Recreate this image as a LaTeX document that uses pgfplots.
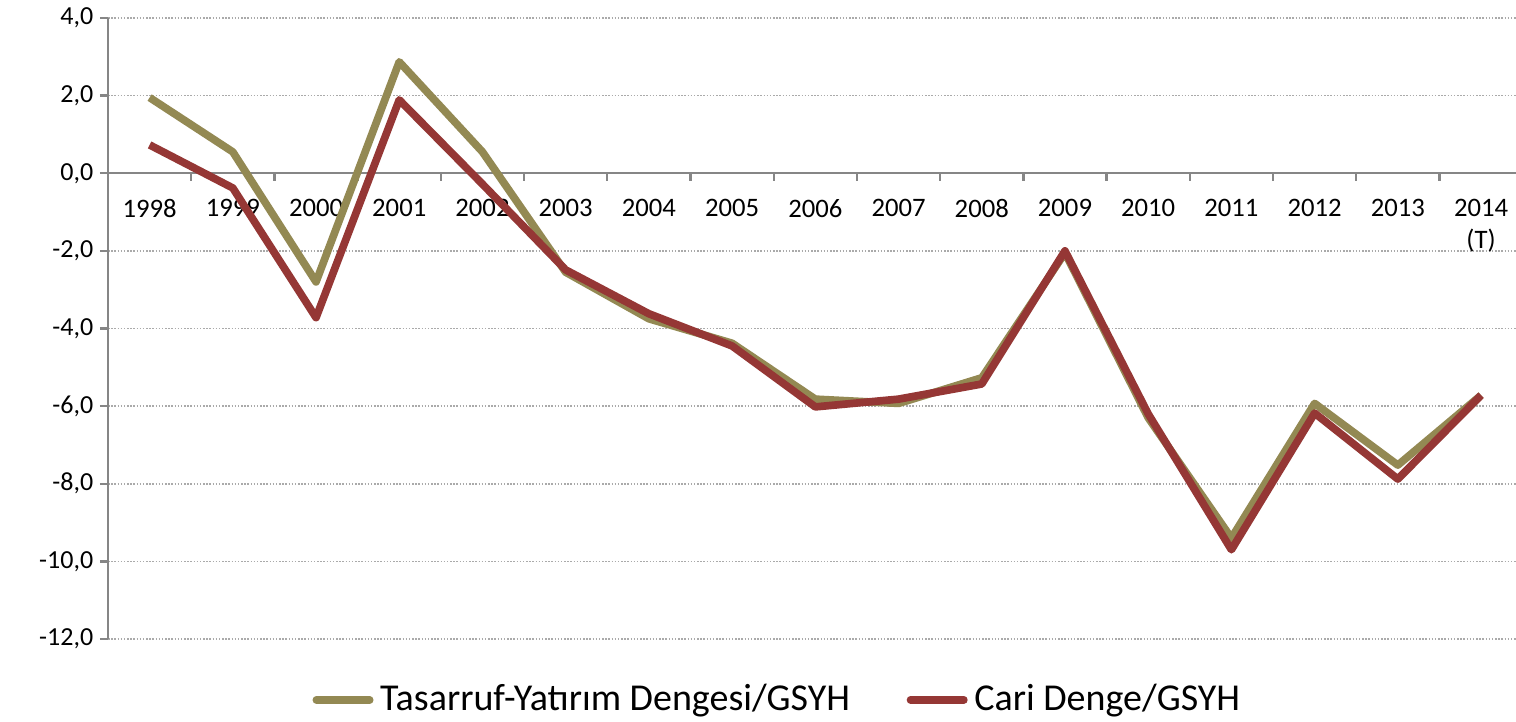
\documentclass[border=0pt]{standalone}
\usepackage{pgfplots}
\pgfplotsset{compat=1.18}
\usepackage{fontspec}
\setmainfont{Carlito}
\definecolor{olivel}{RGB}{147,137,83}
\definecolor{redl}{RGB}{149,55,53}
\definecolor{axgray}{RGB}{134,134,134}
\definecolor{gridgray}{RGB}{170,170,170}
\begin{document}
\begin{tikzpicture}
\useasboundingbox (-32.4pt,-24.9pt) rectangle (422.4pt,191.7pt);
\begin{axis}[
  scale only axis, width=422.4pt, height=186.3pt,
  at={(0,0)}, anchor=south west,
  xmin=-0.5, xmax=16.42, ymin=-12, ymax=4,
  axis y line*=left, axis x line*=middle,
  axis line style={axgray, line width=0.7pt},
  xtick={0,...,16},
  xticklabels={1998,1999,2000,2001,2002,2003,2004,2005,2006,2007,2008,2009,2010,2011,2012,2013,{2014\\(T)}},
  x tick label style={align=center, font=\fontsize{8}{9.6}\selectfont, yshift=-2pt},
  major x tick style={draw=none},
  ytick={-12,-10,...,4},
  y tick style={axgray, line width=0.7pt},
  tick align=outside,
  major tick length=2.4pt,
  yticklabel style={font=\fontsize{7.8}{9.4}\selectfont, xshift=1.5pt,
    /pgf/number format/.cd, fixed, fixed zerofill, precision=1, use comma, assume math mode=true},
  ymajorgrids,
  major grid style={gridgray, line width=0.5pt, dash pattern=on 0.45pt off 0.5pt},
  legend columns=2,
  legend style={at={(0.477,-0.098)}, anchor=center, draw=none, fill=none,
    font=\fontsize{11.4}{13}\selectfont, /tikz/every even column/.append style={column sep=15pt},
    /tikz/every odd column/.append style={inner xsep=1pt}},
  legend image code/.code={\draw[#1, line width=2.3pt, line cap=round] (0pt,0pt) -- (16pt,0pt);},
  every axis plot/.append style={line width=2.3pt, line join=round, mark=none},
]
\pgfplotsinvokeforeach{0.5,1.5,...,15.5}{\draw[axgray, line width=0.7pt] (axis cs:#1,0) -- ++(0pt,-2.4pt);}
\addplot[olivel] coordinates {
(0,1.95) (1,0.55) (2,-2.8) (3,2.87) (4,0.55) (5,-2.55) (6,-3.75) (7,-4.38) (8,-5.82)
(9,-5.93) (10,-5.27) (11,-2.05) (12,-6.3) (13,-9.4) (14,-5.93) (15,-7.52) (16,-5.72)};
\addlegendentry{Tasarruf-Yatırım Dengesi/GSYH}
\addplot[redl] coordinates {
(0,0.73) (1,-0.38) (2,-3.72) (3,1.89) (4,-0.28) (5,-2.49) (6,-3.62) (7,-4.45) (8,-6.02)
(9,-5.82) (10,-5.43) (11,-2.0) (12,-6.2) (13,-9.7) (14,-6.18) (15,-7.88) (16,-5.72)};
\addlegendentry{Cari Denge/GSYH}
\end{axis}
\end{tikzpicture}
\end{document}
